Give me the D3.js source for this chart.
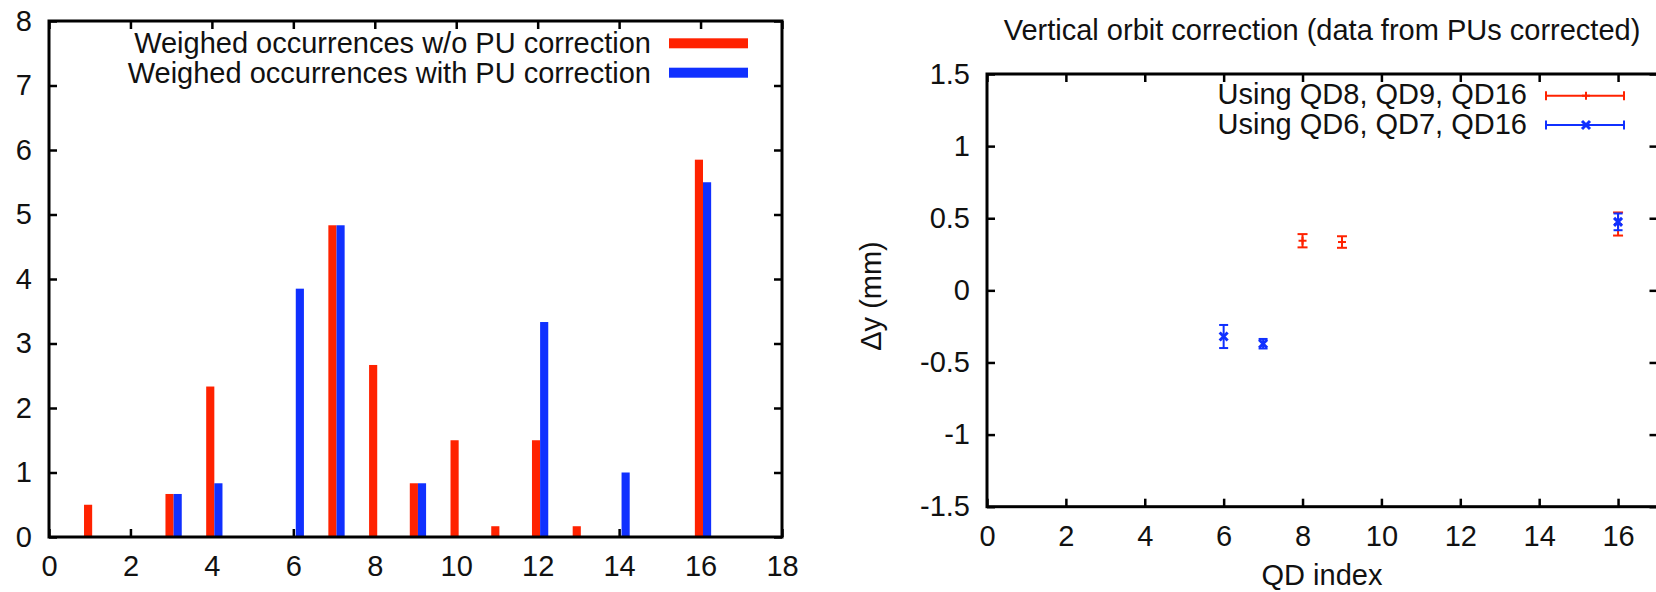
<!DOCTYPE html>
<html lang="en">
	<head>
		<meta charset="UTF-8" />
		<title>QD occurrences and vertical orbit correction</title>
		<style>
			* {
				padding: 0;
				margin: 0;
				box-sizing: border-box;
			}
			body {
				background: #fff;
				overflow: hidden;
			}
			svg text {
				font-family: 'Liberation Sans', Arial, Helvetica, sans-serif;
				fill: #111;
			}
		</style>
	</head>
	<body>
		<svg id="chart" width="1656" height="592"></svg>
		<script src="https://d3js.org/d3.v7.min.js"></script>
		<script>
			// left plot: weighed occurrences per QD index
			const woIdx = [1, 3, 4, 7, 8, 9, 10, 11, 12, 13, 16];
			const woVal = [0.5, 0.667, 2.333, 4.833, 2.667, 0.833, 1.5, 0.167, 1.5, 0.167, 5.85];
			const withIdx = [3, 4, 6, 7, 9, 12, 14, 16];
			const withVal = [0.667, 0.833, 3.85, 4.833, 0.833, 3.333, 1.0, 5.5];
			const barXTicks = [0, 2, 4, 6, 8, 10, 12, 14, 16, 18];
			const barYTicks = [0, 1, 2, 3, 4, 5, 6, 7, 8];

			// right plot: vertical orbit correction
			const qd89Idx = [8, 9, 16];
			const qd89Y = [0.344, 0.335, 0.46];
			const qd89Err = [0.046, 0.04, 0.08];
			const qd67Idx = [6, 7, 16];
			const qd67Y = [-0.32, -0.37, 0.475];
			const qd67Err = [0.08, 0.033, 0.058];
			const orbXTicks = [0, 2, 4, 6, 8, 10, 12, 14, 16];
			const orbYTicks = [-1.5, -1, -0.5, 0, 0.5, 1, 1.5];

			const RED = '#ff2200',
				BLUE = '#1030ff',
				FONT = 29,
				TICK = 8;

			let svg = d3.select('#chart');

			function frame(g, x, y, xTicks, yTicks, xPad) {
				let [x0, x1] = x.range(),
					[y0, y1] = y.range();
				let ax = [
					g.append('g').attr('transform', `translate(0,${y0})`).call(d3.axisBottom(x).tickValues(xTicks).tickSizeInner(-TICK).tickSizeOuter(0).tickPadding(xPad).tickFormat(d => String(d))),
					g.append('g').attr('transform', `translate(0,${y1})`).call(d3.axisTop(x).tickValues(xTicks).tickSizeInner(-TICK).tickSizeOuter(0).tickFormat('')),
					g.append('g').attr('transform', `translate(${x0},0)`).call(d3.axisLeft(y).tickValues(yTicks).tickSizeInner(-TICK).tickSizeOuter(0).tickPadding(17).tickFormat(d => String(d))),
					g.append('g').attr('transform', `translate(${x1},0)`).call(d3.axisRight(y).tickValues(yTicks).tickSizeInner(-TICK).tickSizeOuter(0).tickFormat('')),
				];
				ax.forEach(a => {
					a.attr('font-size', FONT).attr('font-family', null);
					a.select('.domain').remove();
					a.selectAll('line').attr('stroke', '#000').attr('stroke-width', 2.5);
				});
				return ax;
			}

			function border(g, x, y) {
				let [x0, x1] = x.range(),
					[y0, y1] = y.range();
				g.append('rect')
					.attr('x', x0)
					.attr('y', y1)
					.attr('width', x1 - x0)
					.attr('height', y0 - y1)
					.attr('fill', 'none')
					.attr('stroke', '#000')
					.attr('stroke-width', 3);
			}

			// ---------- left: bars ----------
			let xL = d3.scaleLinear().domain([0, 18]).range([49, 782]),
				yL = d3.scaleLinear().domain([0, 8]).range([537, 21]);
			let gL = svg.append('g');
			frame(gL, xL, yL, barXTicks, barYTicks, 18);

			let bw = xL(0.2) - xL(0);
			gL.selectAll('rect.wo')
				.data(woIdx)
				.join('rect')
				.attr('class', 'wo')
				.attr('x', d => xL(d - 0.14))
				.attr('width', bw)
				.attr('y', (d, i) => yL(woVal[i]))
				.attr('height', (d, i) => yL(0) - yL(woVal[i]))
				.attr('fill', RED);
			gL.selectAll('rect.with')
				.data(withIdx)
				.join('rect')
				.attr('class', 'with')
				.attr('x', d => xL(d + 0.06))
				.attr('width', bw)
				.attr('y', (d, i) => yL(withVal[i]))
				.attr('height', (d, i) => yL(0) - yL(withVal[i]))
				.attr('fill', BLUE);
			border(gL, xL, yL);

			let keyL = [
				{ label: 'Weighed occurrences w/o PU correction', color: RED },
				{ label: 'Weighed occurrences with PU correction', color: BLUE },
			];
			keyL.forEach((k, i) => {
				let cy = 43.3 + i * 29.4;
				gL.append('text').attr('x', 651).attr('y', cy + 10).attr('text-anchor', 'end').attr('font-size', FONT).text(k.label);
				gL.append('rect').attr('x', 669).attr('y', cy - 5).attr('width', 79).attr('height', 10).attr('fill', k.color);
			});

			// ---------- right: error bars ----------
			let xR = d3.scaleLinear().domain([0, 17]).range([987, 1657.5]),
				yR = d3.scaleLinear().domain([-1.5, 1.5]).range([506.7, 74]);
			let gR = svg.append('g');
			frame(gR, xR, yR, orbXTicks, orbYTicks, 19);

			function errSeries(idx, ys, errs, color, cap, marker) {
				let s = gR.append('g').attr('stroke', color).attr('stroke-width', 2).attr('fill', 'none');
				idx.forEach((q, i) => {
					let cx = xR(q),
						top = yR(ys[i] + errs[i]),
						bot = yR(ys[i] - errs[i]),
						cy = yR(ys[i]);
					s.append('line').attr('x1', cx).attr('x2', cx).attr('y1', top).attr('y2', bot);
					s.append('line').attr('x1', cx - cap).attr('x2', cx + cap).attr('y1', top).attr('y2', top);
					s.append('line').attr('x1', cx - cap).attr('x2', cx + cap).attr('y1', bot).attr('y2', bot);
					marker(s, cx, cy);
				});
			}
			let plus = (s, cx, cy) => {
				s.append('line').attr('x1', cx - 4).attr('x2', cx + 4).attr('y1', cy).attr('y2', cy);
				s.append('line').attr('x1', cx).attr('x2', cx).attr('y1', cy - 4).attr('y2', cy + 4);
			};
			let cross = (s, cx, cy) => {
				s.append('path').attr('stroke-width', 3).attr('d', `M${cx - 4},${cy - 4}L${cx + 4},${cy + 4}M${cx - 4},${cy + 4}L${cx + 4},${cy - 4}`);
			};
			errSeries(qd89Idx, qd89Y, qd89Err, RED, 5, plus);
			errSeries(qd67Idx, qd67Y, qd67Err, BLUE, 4.5, cross);
			border(gR, xR, yR);

			let keyR = [
				{ label: 'Using QD8, QD9, QD16', color: RED, marker: plus },
				{ label: 'Using QD6, QD7, QD16', color: BLUE, marker: cross },
			];
			keyR.forEach((k, i) => {
				let cy = 95.7 + i * 29.3;
				gR.append('text').attr('x', 1527).attr('y', cy + 8.5).attr('text-anchor', 'end').attr('font-size', FONT).text(k.label);
				let s = gR.append('g').attr('stroke', k.color).attr('stroke-width', 2).attr('fill', 'none');
				s.append('line').attr('x1', 1546).attr('x2', 1624).attr('y1', cy).attr('y2', cy);
				s.append('line').attr('x1', 1546).attr('x2', 1546).attr('y1', cy - 4.5).attr('y2', cy + 4.5);
				s.append('line').attr('x1', 1624).attr('x2', 1624).attr('y1', cy - 4.5).attr('y2', cy + 4.5);
				k.marker(s, 1586, cy);
			});

			gR.append('text')
				.attr('x', 1322)
				.attr('y', 40)
				.attr('text-anchor', 'middle')
				.attr('font-size', FONT)
				.text('Vertical orbit correction (data from PUs corrected)');
			gR.append('text')
				.attr('x', 1322)
				.attr('y', 585)
				.attr('text-anchor', 'middle')
				.attr('font-size', FONT)
				.text('QD index');
			gR.append('text')
				.attr('transform', 'translate(881,296) rotate(-90)')
				.attr('text-anchor', 'middle')
				.attr('font-size', FONT)
				.text('Δy (mm)');
		</script>
	</body>
</html>
